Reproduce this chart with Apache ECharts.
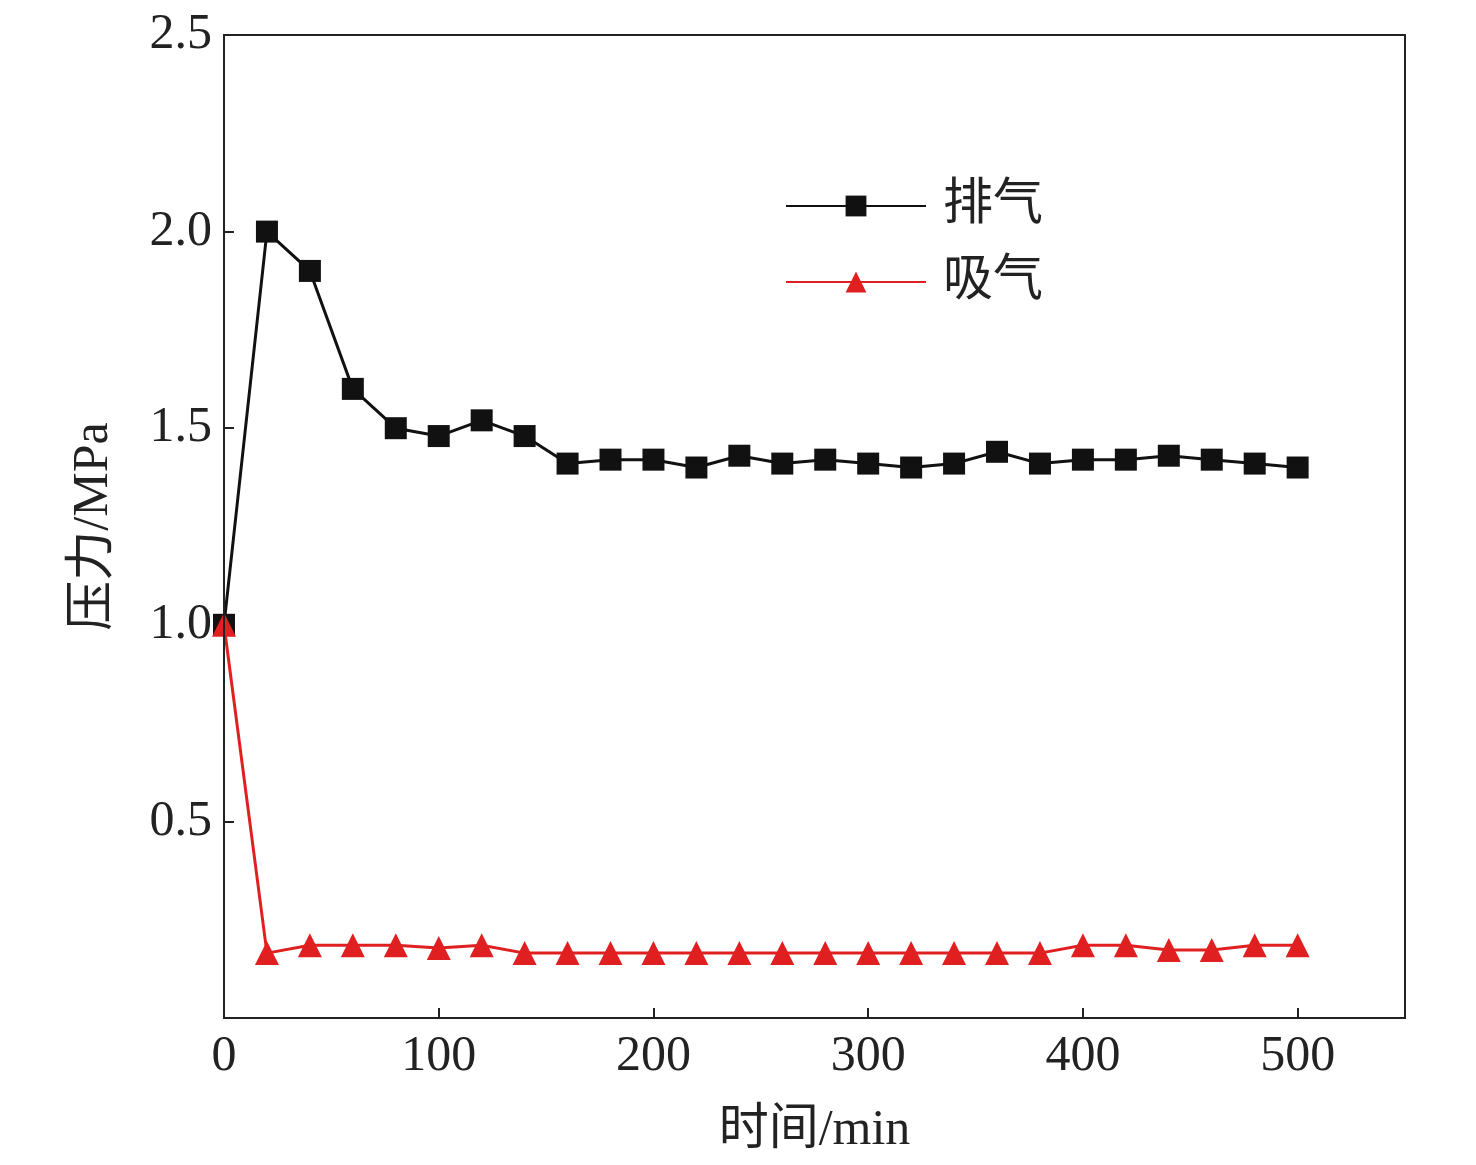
<!DOCTYPE html>
<html>
<head>
<meta charset="utf-8">
<script src="https://cdn.jsdelivr.net/npm/echarts@6/dist/echarts.min.js"></script>
<style>html,body{margin:0;padding:0;background:#fff}#chart{width:1476px;height:1165px}</style>
</head>
<body>
<div id="chart"></div>
<script>
var t = [0,20,40,60,80,100,120,140,160,180,200,220,240,260,280,300,320,340,360,380,400,420,440,460,480,500];
var exhaust = [1.0,2.0,1.9,1.6,1.5,1.48,1.52,1.48,1.41,1.42,1.42,1.40,1.43,1.41,1.42,1.41,1.40,1.41,1.44,1.41,1.42,1.42,1.43,1.42,1.41,1.40];
var suction = [1.0,0.165,0.185,0.185,0.185,0.178,0.185,0.165,0.165,0.165,0.165,0.165,0.165,0.165,0.165,0.165,0.165,0.165,0.165,0.165,0.185,0.185,0.173,0.173,0.185,0.185];
var font = "Liberation Serif, Times New Roman, Noto Sans CJK SC, serif";
var pair = function (a) { return t.map(function (x, i) { return [x, a[i]]; }); };
var chart = echarts.init(document.getElementById("chart"));
chart.setOption({
  textStyle: { fontFamily: font },
  grid: { left: 224, right: 71, top: 35, bottom: 147 },
  legend: {
    left: 780, top: 176, orient: "vertical", itemGap: 26, itemWidth: 140, itemHeight: 26,
    textStyle: { fontSize: 50, color: "#222", fontFamily: font, padding: [0, 0, 0, 12] },
    data: ["排气", "吸气"]
  },
  xAxis: {
    type: "value", min: 0, max: 550, interval: 100,
    name: "时间/min", nameLocation: "middle", nameGap: 88,
    nameTextStyle: { fontSize: 50, color: "#222" },
    axisLine: { lineStyle: { color: "#222", width: 2 } },
    axisTick: { inside: true, length: 10, lineStyle: { width: 2 } },
    axisLabel: { fontSize: 50, color: "#222", margin: 14,
      formatter: function (v) { return v <= 500 ? v : ""; } },
    splitLine: { show: false }
  },
  yAxis: {
    type: "value", min: 0, max: 2.5, interval: 0.5,
    name: "压力/MPa", nameLocation: "middle", nameGap: 105,
    nameTextStyle: { fontSize: 50, color: "#222" },
    axisLine: { lineStyle: { color: "#222", width: 2 } },
    axisTick: { inside: true, length: 10, lineStyle: { width: 2 } },
    axisLabel: { fontSize: 50, color: "#222", margin: 12,
      formatter: function (v) { return v === 0 ? "" : v.toFixed(1); } },
    splitLine: { show: false }
  },
  graphic: [{ type: "rect", shape: { x: 224, y: 35, width: 1181, height: 983 },
    style: { fill: "none", stroke: "#222", lineWidth: 2 }, z: 10 }],
  series: [
    { name: "排气", type: "line", data: pair(exhaust), symbol: "rect", symbolSize: 22,
      itemStyle: { color: "#111" }, lineStyle: { color: "#111", width: 3 } },
    { name: "吸气", type: "line", data: pair(suction), symbol: "triangle", symbolSize: 24,
      itemStyle: { color: "#e02020" }, lineStyle: { color: "#e02020", width: 3 } }
  ]
});
</script>
</body>
</html>
